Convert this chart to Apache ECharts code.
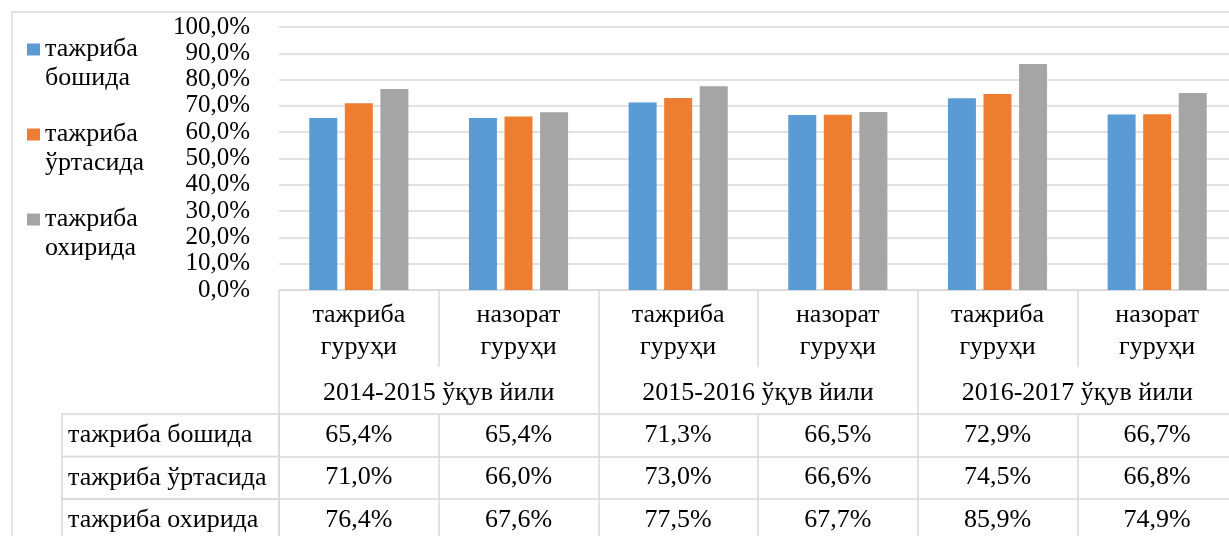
<!DOCTYPE html>
<html>
<head>
<meta charset="utf-8">
<script src="https://cdn.jsdelivr.net/npm/echarts@6/dist/echarts.min.js"></script>
<style>
  html, body { margin: 0; padding: 0; background: #fff; }
  #chart { width: 1229px; height: 536px; }
</style>
</head>
<body>
<div id="chart"></div>
<script>
// data
const groups = ["тажриба\nгуруҳи", "назорат\nгуруҳи", "тажриба\nгуруҳи", "назорат\nгуруҳи", "тажриба\nгуруҳи", "назорат\nгуруҳи"];
const years = ["2014-2015 ўқув йили", "2015-2016 ўқув йили", "2016-2017 ўқув йили"];
const seriesNames = ["тажриба бошида", "тажриба ўртасида", "тажриба охирида"];
const atStart = [65.4, 65.4, 71.3, 66.5, 72.9, 66.7];
const atMiddle = [71.0, 66.0, 73.0, 66.6, 74.5, 66.8];
const atEnd = [76.4, 67.6, 77.5, 67.7, 85.9, 74.9];
const colors = ["#5B9BD5", "#ED7D31", "#A5A5A5"];

const rows = [atStart, atMiddle, atEnd];
const font = "Liberation Serif";
const fontSize = 26;
const lineColor = "#d9d9d9";
const rowHeight = 42.5;
const headerHeight = 124;

const pct = (v) => v.toFixed(1).replace(".", ",") + "%";

const chart = echarts.init(document.getElementById("chart"));

// table rows under the chart are extra category axes sharing the grid
const tableAxes = rows.map((row, r) => ({
    type: "category",
    position: "bottom",
    offset: headerHeight + r * rowHeight,
    data: groups,
    name: "{cell|" + seriesNames[r] + "}",
    nameLocation: "start",
    nameGap: 217,
    nameMoveOverlap: false,
    nameTextStyle: {
        align: "left",
        verticalAlign: "top",
        padding: [0, 0, 0, 6],
        borderColor: lineColor,
        borderWidth: 1.5,
        rich: {
            cell: {
                fontFamily: font,
                fontSize: fontSize,
                color: "#000",
                width: 211,
                height: rowHeight,
                lineHeight: rowHeight,
            },
        },
    },
    axisLine: { show: true, lineStyle: { color: lineColor, width: 1.5 } },
    axisTick: { show: true, interval: 0, length: rowHeight, lineStyle: { color: lineColor, width: 1.5 } },
    axisLabel: {
        interval: 0,
        margin: 8,
        fontFamily: font,
        fontSize: fontSize,
        color: "#000",
        formatter: (v, i) => pct(row[i]),
    },
    splitLine: { show: false },
}));

const option = {
    animation: false,
    textStyle: { fontFamily: font },
    color: colors,
    legend: {
        orient: "vertical",
        left: 27,
        top: 6,
        padding: 0,
        itemGap: -2,
        itemWidth: 13,
        itemHeight: 12,
        icon: "rect",
        // empty first line keeps the icon level with the first word
        formatter: (name) => "\n" + name.replace(" ", "\n"),
        textStyle: {
            fontFamily: font,
            fontSize: fontSize,
            color: "#000",
            lineHeight: 29,
        },
    },
    grid: {
        left: 279,
        right: -8,
        top: 27,
        bottom: 246,
        outerBoundsMode: "none",
    },
    graphic: [
        {
            type: "rect",
            z: -1,
            shape: { x: 12, y: 12, width: 1400, height: 700 },
            style: { fill: "none", stroke: lineColor, lineWidth: 1.5 },
        },
    ],
    xAxis: [
        {
            type: "category",
            position: "bottom",
            data: groups,
            axisLine: { show: true, lineStyle: { color: lineColor, width: 1.5 } },
            axisTick: { show: true, interval: 0, length: 77, lineStyle: { color: lineColor, width: 1.5 } },
            axisLabel: {
                interval: 0,
                margin: 9,
                fontFamily: font,
                fontSize: fontSize,
                lineHeight: 32,
                color: "#000",
            },
        },
        {
            type: "category",
            position: "bottom",
            data: years,
            axisLine: { show: false },
            axisTick: { show: true, interval: 0, length: headerHeight, lineStyle: { color: lineColor, width: 1.5 } },
            axisLabel: {
                interval: 0,
                margin: 90,
                fontFamily: font,
                fontSize: fontSize,
                color: "#000",
            },
        },
        ...tableAxes,
    ],
    yAxis: {
        type: "value",
        min: 0,
        max: 100,
        interval: 10,
        axisLine: { show: false },
        axisTick: { show: false },
        axisLabel: {
            margin: 29,
            fontFamily: font,
            fontSize: 25,
            color: "#000",
            formatter: (v) => pct(v),
        },
        splitLine: { show: true, lineStyle: { color: lineColor, width: 1.5 } },
    },
    series: rows.map((row, r) => ({
        name: seriesNames[r],
        type: "bar",
        xAxisIndex: 0,
        data: row,
        barWidth: 28,
        barGap: "27%",
        itemStyle: { color: colors[r] },
    })),
};

chart.setOption(option);
</script>
</body>
</html>
